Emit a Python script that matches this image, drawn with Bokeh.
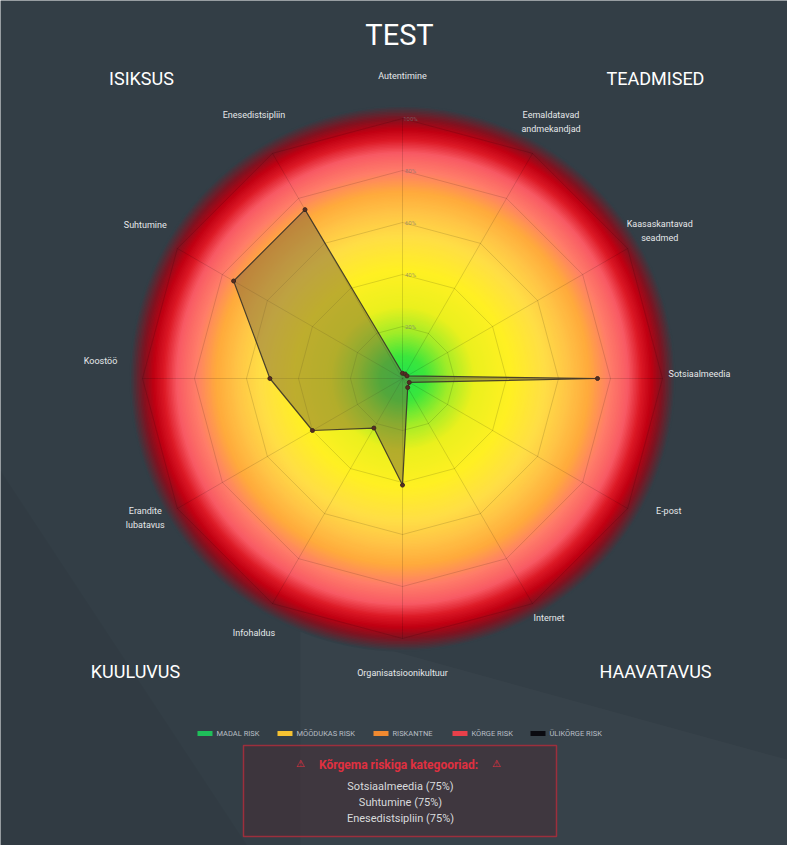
import math
from bokeh.plotting import figure
from bokeh.models import Range1d
from bokeh.core.properties import value
from bokeh.embed import file_html
from bokeh.resources import INLINE

# ---------------- data ----------------
categories = ["Autentimine", "Eemaldatavad\nandmekandjad", "Kaasaskantavad\nseadmed",
              "Sotsiaalmeedia", "E-post", "Internet", "Organisatsioonikultuur",
              "Infohaldus", "Erandite\nlubatavus", "Koostöö", "Suhtumine", "Enesedistsipliin"]
scores = [2, 2, 2, 75, 3, 4, 41, 22, 40, 51, 75, 75]
tick_values = [20, 40, 60, 80, 100]
tick_labels = ["20%", "40%", "60%", "80%", "100%"]
group_names = ["ISIKSUS", "TEADMISED", "KUULUVUS", "HAAVATAVUS"]
legend_names = ["MADAL RISK", "MÕÕDUKAS RISK", "RISKANTNE", "KÕRGE RISK", "ÜLIKÕRGE RISK"]
legend_colors = ["#1fbf5a", "#f5c232", "#f08a30", "#e8404a", "#0a0a10"]
top_risk_title = "Kõrgema riskiga kategooriad:"
top_risk_items = ["Sotsiaalmeedia (75%)", "Suhtumine (75%)", "Enesedistsipliin (75%)"]

# label nudges (pixels, layout only)
label_dx = [0, 0, 0, 0, 9, -2, 0, 0, 0, -5, 0, 0]
label_dy = [-6, 1, 1, -5, -16, -18, -3, -3, -9, -18, -5, -6]

# gradient stops (fraction of radius, rgb)
grad_stops = [
    (0.00, (30, 228, 80)), (0.09, (60, 230, 60)), (0.18, (160, 236, 40)),
    (0.28, (235, 240, 30)), (0.42, (255, 240, 35)), (0.55, (255, 222, 70)),
    (0.64, (255, 196, 70)), (0.72, (255, 170, 60)), (0.80, (255, 125, 105)),
    (0.87, (248, 90, 100)), (0.92, (220, 25, 38)), (0.96, (192, 0, 18)),
    (1.00, (130, 18, 32)), (1.05, (51, 62, 70)),
]

BG = "#333e46"
W, H = 787, 845
CX, CY = 402, 378          # radar centre (pixels from top-left)
R = 260                    # radius of 100 %

p = figure(width=W, height=H, output_backend="svg", toolbar_location=None,
           x_range=Range1d(-CX, W - CX), y_range=Range1d(CY - H, CY),
           x_axis_type=None, y_axis_type=None, min_border=0)
p.background_fill_color = BG
p.border_fill_color = BG
p.outline_line_color = None
p.grid.visible = False

def sx(x):  # screen x -> data
    return x - CX
def sy(y):
    return CY - y

# subtle background bands
p.patch([sx(300), sx(790), sx(790), sx(300)], [sy(625), sy(760), sy(850), sy(850)],
        color="#ffffff", alpha=0.025, line_color=None)
p.patch([sx(0), sx(250), sx(0)], [sy(470), sy(850), sy(850)],
        color="#000000", alpha=0.035, line_color=None)

# radial gradient (filled discs, largest first)
def interp(f):
    for (f0, c0), (f1, c1) in zip(grad_stops[:-1], grad_stops[1:]):
        if f0 <= f <= f1:
            t = (f - f0) / (f1 - f0)
            return "#%02x%02x%02x" % tuple(int(round(a + (b - a) * t)) for a, b in zip(c0, c1))
    return BG
radii, cols = [], []
r = R * 1.05
while r > 0:
    radii.append(r)
    cols.append(interp(r / R))
    r -= 1.5
p.circle(x=[0] * len(radii), y=[0] * len(radii), radius=radii, fill_color=cols,
         line_color=None)

# grid
n = len(categories)
ang = [2 * math.pi * i / n for i in range(n)]
for tv in tick_values:
    rr = tv / 100 * R
    xs = [rr * math.sin(a) for a in ang]
    ys = [rr * math.cos(a) for a in ang]
    p.line(xs + [xs[0]], ys + [ys[0]], line_color="#000000", line_alpha=0.13, line_width=1)
for a in ang:
    p.line([0, R * math.sin(a)], [0, R * math.cos(a)], line_color="#000000", line_alpha=0.13, line_width=1)
p.text(x=[8] * len(tick_values), y=[tv / 100 * R for tv in tick_values], text=tick_labels,
       text_font=value("Roboto"), text_font_size="6px", text_color="#777777", text_alpha=0.7,
       text_align="center", text_baseline="middle")

# data polygon
px = [s / 100 * R * math.sin(a) for s, a in zip(scores, ang)]
py = [s / 100 * R * math.cos(a) for s, a in zip(scores, ang)]
p.patch(px, py, fill_color="#6e5a3c", fill_alpha=0.45, line_color="#3a3328", line_width=1.2, line_alpha=0.9)
p.scatter(px, py, size=4, fill_color="#5a2a20", line_color="#3a2a20")

# category labels
LR = 297
p.text(x=[LR * math.sin(a) + dx for a, dx in zip(ang, label_dx)],
       y=[LR * math.cos(a) - dy for a, dy in zip(ang, label_dy)], text=categories,
       text_font=value("Roboto"), text_font_size="9px", text_color="#e6e8ea",
       text_align="center", text_baseline="middle", text_line_height=1.4)

# title and group labels
p.text(x=[sx(399)], y=[sy(34)], text=["TEST"], text_font=value("Roboto"), text_font_size="29px",
       text_color="#ffffff", text_align="center", text_baseline="middle")
p.text(x=[sx(141), sx(655), sx(135), sx(655)], y=[sy(78), sy(78), sy(671), sy(671)], text=group_names,
       text_font=value("Roboto"), text_font_size="18px", text_color="#ffffff",
       text_align="center", text_baseline="middle")

# legend
lx = [197, 277, 373, 452, 530]
p.rect(x=[sx(v + 7.5) for v in lx], y=[sy(733)] * 5, width=15, height=5,
       fill_color=legend_colors, line_color=None)
p.text(x=[sx(v + 19) for v in lx], y=[sy(733)] * 5, text=legend_names,
       text_font=value("Roboto"), text_font_size="7.5px", text_color="#b8bec4",
       text_align="left", text_baseline="middle")

# top-risk box
p.quad(left=[sx(243)], right=[sx(556)], top=[sy(745)], bottom=[sy(836)],
       fill_color="#4a2a34", fill_alpha=0.45, line_color="#9c2f3c", line_width=1.5)
p.text(x=[sx(398)], y=[sy(764)], text=[top_risk_title], text_font=value("Roboto"),
       text_font_size="12px", text_font_style="bold", text_color="#e03040",
       text_align="center", text_baseline="middle")
p.text(x=[sx(300), sx(496)], y=[sy(763)] * 2, text=["⚠", "⚠"], text_font=value("DejaVu Sans"),
       text_font_size="10px", text_color="#e03040", text_align="center", text_baseline="middle")
p.text(x=[sx(400)] * 3, y=[sy(786), sy(802), sy(818)], text=top_risk_items,
       text_font=value("Roboto"), text_font_size="11px", text_color="#d8dadc",
       text_align="center", text_baseline="middle")

open("out.html", "w").write(file_html(p, INLINE))
